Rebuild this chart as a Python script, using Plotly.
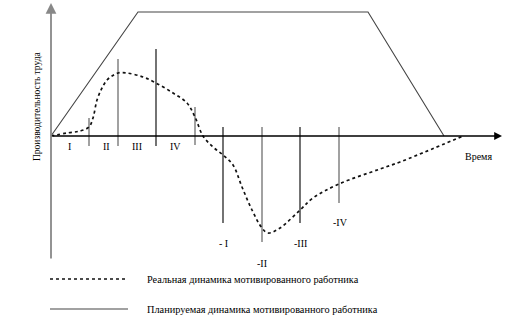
import plotly.graph_objects as go

# Planned dynamics (time, productivity)
plan_t = [0, 87, 317, 393]
plan_p = [0, 124, 124, 0]

# Real dynamics (time, productivity)
real_t = [0, 16, 29, 38, 42, 46, 51, 56, 61, 67, 76, 92, 105, 122, 136, 144, 152, 162, 172, 182, 191, 201, 211, 217, 229, 249, 262, 288, 329, 349, 412]
real_p = [0, 3, 5, 9, 18, 36, 48, 56, 60, 63, 63, 59, 53, 43, 33, 19, 0, -11, -19, -29, -51, -74, -92, -97, -92, -74, -62, -48, -33, -26, 0]

# Phase boundary markers
mark_t = [38, 67, 105, 144, 172, 211, 249, 288]
mark_top = [18, 77, 87, 29, 9, 9, 9, 9]
mark_bot = [-10, -10, -10, -9, -87, -106, -87, -67]
mark_col = ["#8a8a8a", "#8a8a8a", "#000000", "#8a8a8a", "#000000", "#8a8a8a", "#000000", "#8a8a8a"]

# Phase labels
phase_labels = ["I", "II", "III", "IV", "- I", "-II", "-III", "-IV"]
phase_t = [18, 55, 86, 124, 172, 211, 249, 289]
phase_p = [-10, -10, -10, -10, -107, -127, -107, -86]

legend_labels = ["Реальная динамика мотивированного работника",
                 "Планируемая динамика мотивированного работника"]

FONT = "Liberation Serif, Times New Roman, serif"

fig = go.Figure()

# phase markers
for t, a, b, c in zip(mark_t, mark_top, mark_bot, mark_col):
    fig.add_trace(go.Scatter(x=[t, t], y=[a, b], mode="lines",
                             line=dict(color=c, width=1.1 if c == "#000000" else 1.6),
                             hoverinfo="skip"))

# planned
fig.add_trace(go.Scatter(x=plan_t, y=plan_p, mode="lines",
                         line=dict(color="#444444", width=1.1), hoverinfo="skip"))
# real
fig.add_trace(go.Scatter(x=real_t, y=real_p, mode="lines", line_shape="spline",
                         line=dict(color="#111111", width=1.7, dash="dot"), hoverinfo="skip"))

# legend samples
fig.add_trace(go.Scatter(x=[-1, 77], y=[-143, -143], mode="lines",
                         line=dict(color="#111111", width=1.7, dash="dot"), hoverinfo="skip"))
fig.add_trace(go.Scatter(x=[-1, 77], y=[-173, -173], mode="lines",
                         line=dict(color="#444444", width=1.1), hoverinfo="skip"))

annotations = []
# axes arrows
annotations.append(dict(x=0, y=133, ax=0, ay=-124, xref="x", yref="y", axref="x", ayref="y",
                        showarrow=True, arrowhead=2, arrowsize=1.2, arrowwidth=1.8,
                        arrowcolor="#888888", text=""))
annotations.append(dict(x=451, y=0, ax=0, ay=0, xref="x", yref="y", axref="x", ayref="y",
                        showarrow=True, arrowhead=2, arrowsize=1.2, arrowwidth=1.3,
                        arrowcolor="#000000", text=""))

for lab, t, p in zip(phase_labels, phase_t, phase_p):
    annotations.append(dict(x=t, y=p, text=lab, showarrow=False,
                            font=dict(family=FONT, size=10, color="#000")))

annotations.append(dict(x=427, y=-20, text="Время", showarrow=False,
                        font=dict(family=FONT, size=10, color="#000")))
annotations.append(dict(x=-14, y=29, text="Производительность труда", showarrow=False,
                        textangle=-90, font=dict(family=FONT, size=9.5, color="#000")))

for lab, p in zip(legend_labels, [-143, -173]):
    annotations.append(dict(x=94, y=p, text=lab, showarrow=False, xanchor="left",
                            font=dict(family=FONT, size=10.3, color="#000")))

fig.update_layout(
    width=517, height=327,
    margin=dict(l=0, r=0, t=0, b=0),
    paper_bgcolor="white", plot_bgcolor="white",
    showlegend=False,
    annotations=annotations,
    xaxis=dict(range=[-51, 466], visible=False, fixedrange=True),
    yaxis=dict(range=[-191, 136], visible=False, fixedrange=True),
)

fig.write_html("out.html")
